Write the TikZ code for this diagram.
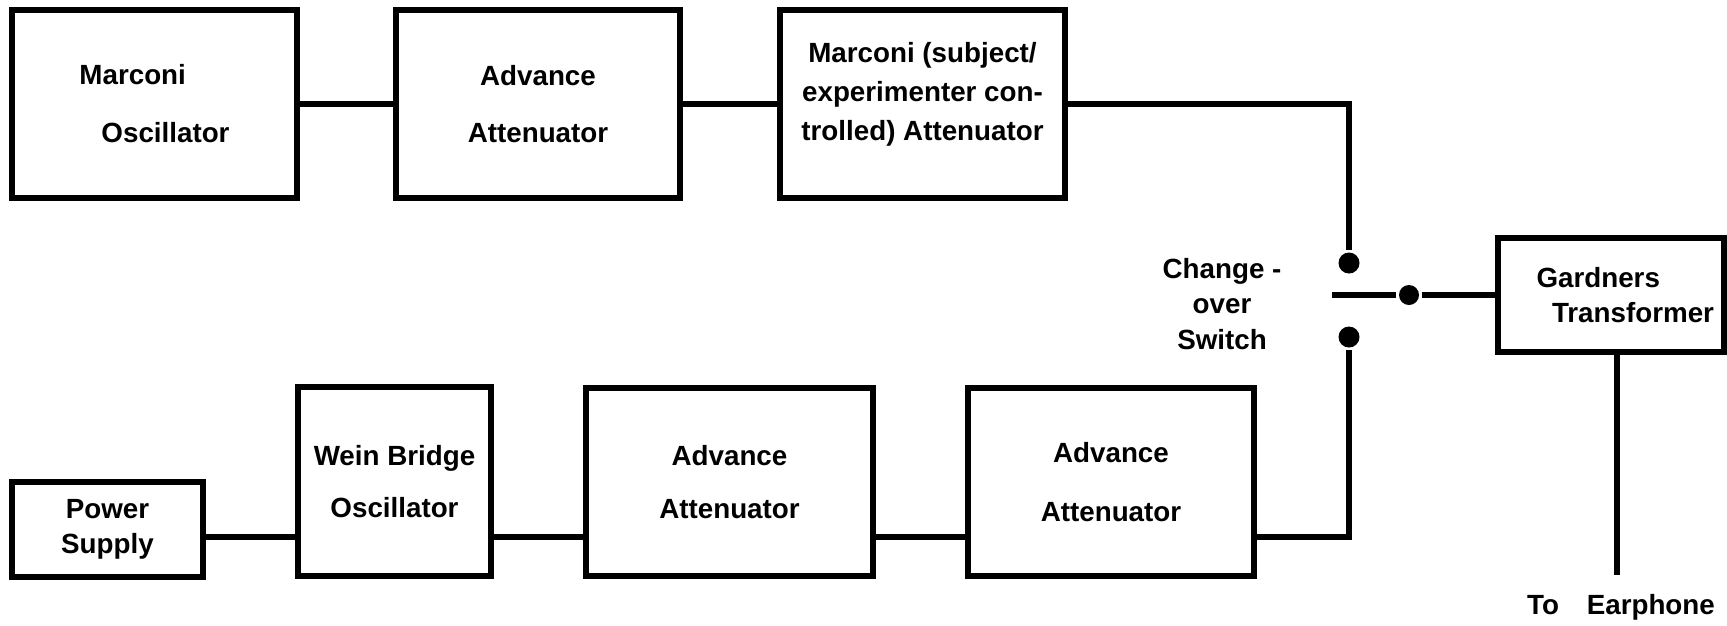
\documentclass[tikz,border=0pt]{standalone}
\usepackage{fontspec}
\setmainfont{Liberation Sans}
\begin{document}
\begin{tikzpicture}[x=0.2mm, y=-0.2mm, line width=2.9pt,
  blk/.style={draw, rectangle, inner sep=0pt, align=center,
    font=\fontsize{15.8}{20}\selectfont\bfseries},
  lbl/.style={inner sep=0pt, align=center,
    font=\fontsize{15.8}{20}\selectfont\bfseries},
  contact/.style={circle, fill, inner sep=0pt, minimum size=#1}]
  \useasboundingbox (0,0) rectangle (1727,625);
  % upper chain
  \node [blk, align=left, minimum width=57mm, minimum height=37.6mm]
    (mosc) at (154.5,104) {Marconi\\[13pt]\hspace*{4.4mm}Oscillator};
  \node [blk, minimum width=56.8mm, minimum height=37.6mm]
    (adv1) at (538,104) {Advance\\[12pt]Attenuator};
  \node [blk, minimum width=57mm, minimum height=37.6mm]
    (msub) at (922.5,104) {Marconi (subject/\\[2pt]experimenter con-\\[2pt]trolled) Attenuator\\[-5.6pt]\mbox{}};
  % lower chain
  \node [blk, minimum width=38.2mm, minimum height=19mm]
    (power) at (107.5,529.5) {Power\\Supply};
  \node [blk, minimum width=38.6mm, minimum height=37.8mm]
    (wein) at (394.5,481.5) {Wein Bridge\\[9.5pt]Oscillator};
  \node [blk, minimum width=57.4mm, minimum height=37.6mm]
    (adv2) at (729.5,482) {Advance\\[10.6pt]Attenuator};
  \node [blk, minimum width=57.2mm, minimum height=37.6mm]
    (adv3) at (1111,482) {Advance\\[14pt]Attenuator};
  % switch and output
  \node [lbl] (swlbl) at (1222,304) {Change -\\over\\Switch};
  \node [contact=4.2mm] (up) at (1349,263) {};
  \node [contact=4.2mm] (down) at (1349,337) {};
  \node [contact=4mm] (pivot) at (1409,295) {};
  \node [blk, align=left, minimum width=45.2mm, minimum height=22.8mm]
    (gard) at (1611,295) {\hspace*{5.7mm}Gardners\\\hspace*{8.8mm}Transformer};
  \node [lbl] (earph) at (1621,607) {To\hspace{1em}Earphone};
  \coordinate (bus) at (0,537);
  \coordinate (armend) at (1332,295);
  \coordinate (earend) at (1617,575);

  \draw (mosc.east) -- (adv1.west);
  \draw (adv1.east) -- (msub.west);
  \draw (msub.east) -| (up);
  \draw (power.east |- bus) -- (wein.west |- bus);
  \draw (wein.east |- bus) -- (adv2.west |- bus);
  \draw (adv2.east |- bus) -- (adv3.west |- bus);
  \draw (adv3.east |- bus) -| (down);
  \draw (armend) -- (pivot) -- (gard.west);
  \draw (gard.south -| earend) -- (earend);
\end{tikzpicture}
\end{document}
